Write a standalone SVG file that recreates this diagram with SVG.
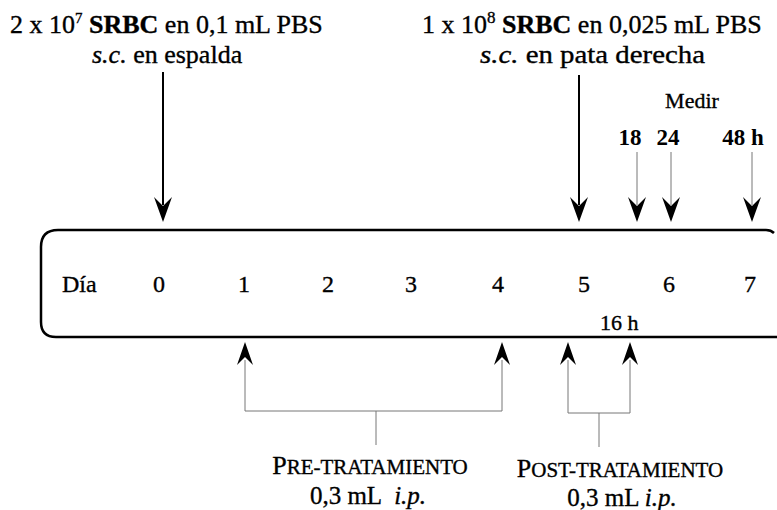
<svg xmlns="http://www.w3.org/2000/svg" xmlns:xlink="http://www.w3.org/1999/xlink" width="777" height="510" viewBox="0 0 777 510">
<style>
text{font-family:"Liberation Serif","Times New Roman",serif;fill:#000;stroke:#000;stroke-width:0.35px}
.lbl{font-size:26px}
.day{font-size:24px;text-anchor:middle}
.b{font-weight:bold}
.i{font-style:italic}
.main{stroke:#000;stroke-width:2;fill:none}
.thin{stroke:#777;stroke-width:1;fill:none}
.box{stroke:#000;stroke-width:2.5;fill:none}
.h{font-size:23px;font-weight:bold;text-anchor:middle;stroke-width:0}
</style>
<defs>
<path id="ahd" d="M0,0 L-9,-25 L0,-16 L9,-25 Z" fill="#000"/>
<path id="ahu" d="M0,0 L-8,23 L0,15 L8,23 Z" fill="#000"/>
</defs>

<g id="timeline">
<path class="box" d="M777,337 L56,337 Q41,337 41,322 L41,247 Q41,230 58,230 L766,230 Q771,230 774,233"/>
<text class="lbl" x="62" y="292" style="font-size:24px">Día</text>
<text class="day" x="159" y="292">0</text>
<text class="day" x="244" y="292">1</text>
<text class="day" x="328" y="292">2</text>
<text class="day" x="411" y="292">3</text>
<text class="day" x="498" y="292">4</text>
<text class="day" x="584" y="292">5</text>
<text class="day" x="669" y="292">6</text>
<text class="day" x="750" y="292">7</text>
<text x="600" y="330" style="font-size:22px">16 h</text>
</g>

<g id="inmunizacion">
<text class="lbl" x="10" y="33">2 x 10<tspan dy="-10" style="font-size:15px">7</tspan><tspan dy="10"> </tspan><tspan class="b">SRBC</tspan> en 0,1 mL PBS</text>
<text class="lbl" x="92" y="63"><tspan class="i">s.c.</tspan> en espalda</text>
</g>

<g id="desafio">
<text class="lbl" x="422" y="33">1 x 10<tspan dy="-10" style="font-size:17px">8</tspan><tspan dy="10"> </tspan><tspan class="b">SRBC</tspan> en 0,025 mL PBS</text>
<text class="lbl" x="480" y="63" textLength="225" lengthAdjust="spacingAndGlyphs"><tspan class="i">s.c.</tspan> en pata derecha</text>
</g>

<g id="medir">
<text x="692" y="108" style="font-size:22px;text-anchor:middle">Medir</text>
<text class="h" x="630" y="145">18</text>
<text class="h" x="668" y="145">24</text>
<text class="h" x="743" y="145">48 h</text>
</g>

<g id="pretratamiento">
<text x="370" y="474" style="text-anchor:middle"><tspan style="font-size:26px">P</tspan><tspan style="font-size:21px">RE-TRATAMIENTO</tspan></text>
<text x="368" y="504" style="font-size:25px;text-anchor:middle">0,3 mL<tspan class="i" dx="12">i.p.</tspan></text>
</g>

<g id="posttratamiento">
<text x="620" y="477" style="text-anchor:middle"><tspan style="font-size:26px">P</tspan><tspan style="font-size:21px">OST-TRATAMIENTO</tspan></text>
<text x="622" y="506" style="font-size:25px;text-anchor:middle">0,3 mL <tspan class="i">i.p.</tspan></text>
</g>

<g id="connectors">
<line class="main" x1="163" y1="72" x2="163" y2="205"/>
<use xlink:href="#ahd" x="163" y="222"/>
<line class="main" x1="579" y1="75" x2="579" y2="205"/>
<use xlink:href="#ahd" x="579" y="222"/>
<line class="thin" x1="637" y1="152" x2="637" y2="205"/>
<use xlink:href="#ahd" x="637" y="222"/>
<line class="thin" x1="671" y1="152" x2="671" y2="205"/>
<use xlink:href="#ahd" x="671" y="222"/>
<line class="thin" x1="752" y1="152" x2="752" y2="205"/>
<use xlink:href="#ahd" x="752" y="222"/>

<path class="thin" d="M245,360 L245,411 L502,411 L502,360 M376,411 L376,445"/>
<use xlink:href="#ahu" x="245" y="342"/>
<use xlink:href="#ahu" x="502" y="342"/>
<path class="thin" d="M568,360 L568,413 L630,413 L630,360 M599,413 L599,447"/>
<use xlink:href="#ahu" x="568" y="342"/>
<use xlink:href="#ahu" x="630" y="342"/>
</g>
</svg>
